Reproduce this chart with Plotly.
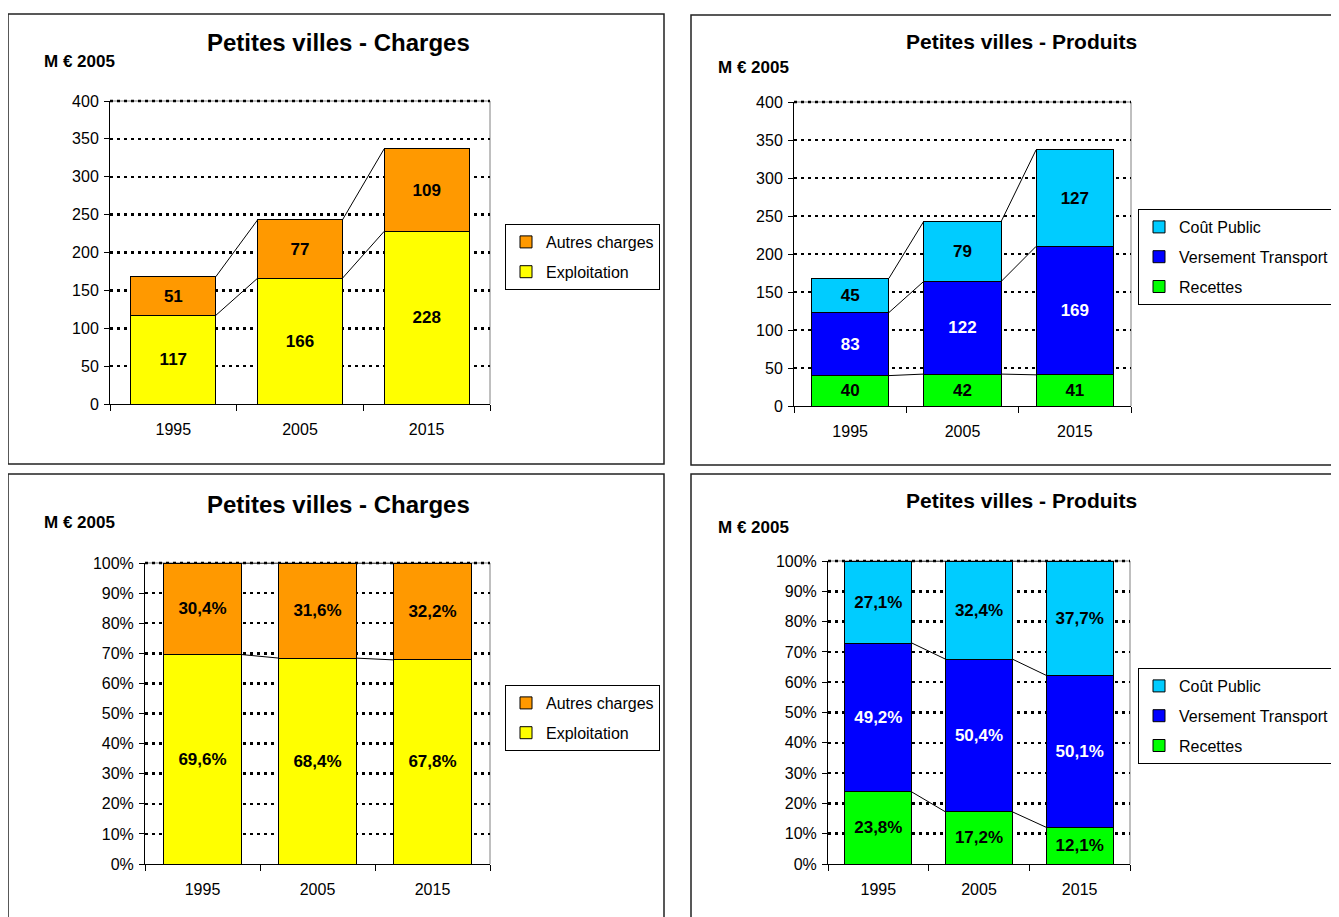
import plotly.graph_objects as go

W, H = 1339, 917
OFF = 8  # page body margin offset in the browser

years = ["1995", "2005", "2015"]

# Charges (M€ 2005)
exploitation = [117, 166, 228]
autres_charges = [51, 77, 109]

# Produits (M€ 2005)
recettes = [40, 42, 41]
versement_transport = [83, 122, 169]
cout_public = [45, 79, 127]

# Charges shares (%)
exploitation_pct = [69.6, 68.4, 67.8]
autres_charges_pct = [30.4, 31.6, 32.2]

# Produits shares (%)
recettes_pct = [23.8, 17.2, 12.1]
versement_transport_pct = [49.2, 50.4, 50.1]
cout_public_pct = [27.1, 32.4, 37.7]

TITLE_CHARGES = "Petites villes - Charges"
TITLE_PRODUITS = "Petites villes - Produits"
UNIT = "M € 2005"

C_YELLOW = "#FFFF00"
C_ORANGE = "#FF9900"
C_CYAN = "#00CCFF"
C_BLUE = "#0000FF"
C_GREEN = "#00FF00"

FONT = "Arial, 'Liberation Sans', sans-serif"
GRID_DASH = "3px,4px"


def px_x(v):
    return (v - OFF) / W


def px_y(v):
    return 1 - (v - OFF) / H


def fmt_pct(v):
    return f"{v:.1f}".replace(".", ",") + "%"


def normalize(series_list):
    totals = [sum(vals) for vals in zip(*series_list)]
    return [[v / t * 100 for v, t in zip(s, totals)] for s in series_list]


panels = [
    dict(  # top-left
        box=(8, 14, 664, 464), plot=(110, 101, 490, 404), title=(338, 43, TITLE_CHARGES, 24),
        unit=(42, 61), legend=(505, 224), bw=0.67, pct=False,
        series=[("Exploitation", exploitation, C_YELLOW, "black"),
                ("Autres charges", autres_charges, C_ORANGE, "black")],
    ),
    dict(  # top-right
        box=(691, 15, 1352, 465), plot=(794, 102, 1131, 406), title=(1021, 42, TITLE_PRODUITS, 21),
        unit=(716, 67), legend=(1138, 209), bw=0.69, pct=False,
        series=[("Recettes", recettes, C_GREEN, "black"),
                ("Versement Transport", versement_transport, C_BLUE, "white"),
                ("Coût Public", cout_public, C_CYAN, "black")],
    ),
    dict(  # bottom-left
        box=(8, 474, 664, 935), plot=(145, 563, 490, 864), title=(338, 504, TITLE_CHARGES, 24),
        unit=(42, 522), legend=(505, 685), bw=0.67, pct=True,
        series=[("Exploitation", exploitation_pct, C_YELLOW, "black"),
                ("Autres charges", autres_charges_pct, C_ORANGE, "black")],
    ),
    dict(  # bottom-right
        box=(691, 474, 1352, 935), plot=(828, 561, 1130, 864), title=(1021, 501, TITLE_PRODUITS, 21),
        unit=(716, 527), legend=(1138, 668), bw=0.665, pct=True,
        series=[("Recettes", recettes_pct, C_GREEN, "black"),
                ("Versement Transport", versement_transport_pct, C_BLUE, "white"),
                ("Coût Public", cout_public_pct, C_CYAN, "black")],
    ),
]

fig = go.Figure()
shapes = []
annotations = []
layout_extra = {}

xpos = list(range(len(years)))

for k, p in enumerate(panels, start=1):
    sfx = "" if k == 1 else str(k)
    xa, ya = "x" + sfx, "y" + sfx
    leg = "legend" + sfx
    bw = p["bw"]

    raw = [s[1] for s in p["series"]]
    plotted = normalize(raw) if p["pct"] else raw
    nser = len(p["series"])

    cum = [0.0] * len(years)
    boundaries = []
    for gi, ((name, vals, color, tcol), pv) in enumerate(zip(p["series"], plotted)):
        texts = [fmt_pct(v) for v in vals] if p["pct"] else [str(v) for v in vals]
        fig.add_trace(go.Bar(
            x=xpos, y=pv, name=name, width=bw,
            marker=dict(color=color, line=dict(color="black", width=1)),
            text=texts, textposition="inside", insidetextanchor="middle",
            textangle=0, constraintext="none",
            textfont=dict(family=FONT, size=17, color=tcol, weight="bold"),
            xaxis=xa, yaxis=ya, legend=leg, legendgroup=f"g{k}_{gi}",
            legendrank=100 + nser - gi, hoverinfo="skip",
        ))
        cum = [c + v for c, v in zip(cum, pv)]
        boundaries.append(cum[:])

    # Excel-style series lines between bars
    lx, ly = [], []
    for b in boundaries:
        for i in range(len(years) - 1):
            lx += [xpos[i] + bw / 2, xpos[i + 1] - bw / 2, None]
            ly += [b[i], b[i + 1], None]
    fig.add_trace(go.Scatter(
        x=lx, y=ly, mode="lines", line=dict(color="black", width=1),
        showlegend=False, hoverinfo="skip", xaxis=xa, yaxis=ya, cliponaxis=False,
    ))

    x0, y0, x1, y1 = p["plot"]
    xdom = [px_x(x0), px_x(x1)]
    ydom = [px_y(y1), px_y(y0)]

    if p["pct"]:
        yaxis = dict(range=[0, 100], dtick=10, ticksuffix="%")
    else:
        yaxis = dict(range=[0, 400], dtick=50)
    yaxis.update(
        domain=ydom, anchor=xa, showline=True, linecolor="black", linewidth=1,
        ticks="outside", ticklen=5, tickcolor="black", ticklabelstandoff=2,
        showgrid=True, gridcolor="black", gridwidth=2.5, griddash=GRID_DASH,
        zeroline=False, tickfont=dict(family=FONT, size=16, color="black"),
        fixedrange=True,
    )
    xaxis = dict(
        domain=xdom, anchor=ya, range=[-0.5, len(years) - 0.5],
        tickmode="array", tickvals=xpos, ticktext=years, ticks="",
        ticklabelstandoff=11,
        showline=True, linecolor="black", linewidth=1, showgrid=False, zeroline=False,
        tickfont=dict(family=FONT, size=16, color="black"),
        minor=dict(tickmode="array", tickvals=[i - 0.5 for i in range(len(years) + 1)],
                   ticks="outside", ticklen=6, tickcolor="black", showgrid=False),
        fixedrange=True,
    )
    layout_extra["xaxis" + sfx] = xaxis
    layout_extra["yaxis" + sfx] = yaxis

    # gray plot-area border (top and right)
    shapes.append(dict(type="path", xref=f"{xa} domain", yref=f"{ya} domain",
                       path="M 0,1 L 1,1 L 1,0", line=dict(color="#808080", width=1),
                       layer="below"))
    # dotted gridline on the top edge
    shapes.append(dict(type="line", xref=f"{xa} domain", yref=f"{ya} domain",
                       x0=0, x1=1, y0=1, y1=1,
                       line=dict(color="black", width=2.5, dash=GRID_DASH), layer="below"))
    # chart box
    bx0, by0, bx1, by1 = p["box"]
    shapes.append(dict(type="rect", xref="paper", yref="paper",
                       x0=px_x(bx0), x1=px_x(bx1), y0=px_y(by1), y1=px_y(by0),
                       line=dict(color="#222222", width=1.5), fillcolor="rgba(0,0,0,0)"))

    tx, ty, ttext, tsize = p["title"]
    annotations.append(dict(text=f"<b>{ttext}</b>", x=px_x(tx), y=px_y(ty), xref="paper",
                            yref="paper", xanchor="center", yanchor="middle", showarrow=False,
                            font=dict(family=FONT, size=tsize, color="black")))
    ux, uy = p["unit"]
    annotations.append(dict(text=f"<b>{UNIT}</b>", x=px_x(ux), y=px_y(uy), xref="paper",
                            yref="paper", xanchor="left", yanchor="middle", showarrow=False,
                            font=dict(family=FONT, size=17, color="black")))

    lgx, lgy = p["legend"]
    layout_extra[leg] = dict(
        x=px_x(lgx), y=px_y(lgy), xanchor="left", yanchor="top", xref="paper", yref="paper",
        bgcolor="white", bordercolor="black", borderwidth=1,
        font=dict(family=FONT, size=16, color="black"),
        traceorder="grouped", tracegroupgap=6, itemclick=False, itemdoubleclick=False,
    )

fig.update_layout(
    width=W, height=H, margin=dict(l=0, r=0, t=0, b=0, pad=0, autoexpand=False),
    paper_bgcolor="white", plot_bgcolor="white", showlegend=True, barmode="stack",
    shapes=shapes, annotations=annotations, font=dict(family=FONT, color="black"),
    hovermode=False, **layout_extra,
)

fig.write_html("out.html", config={"displayModeBar": False, "staticPlot": True})
